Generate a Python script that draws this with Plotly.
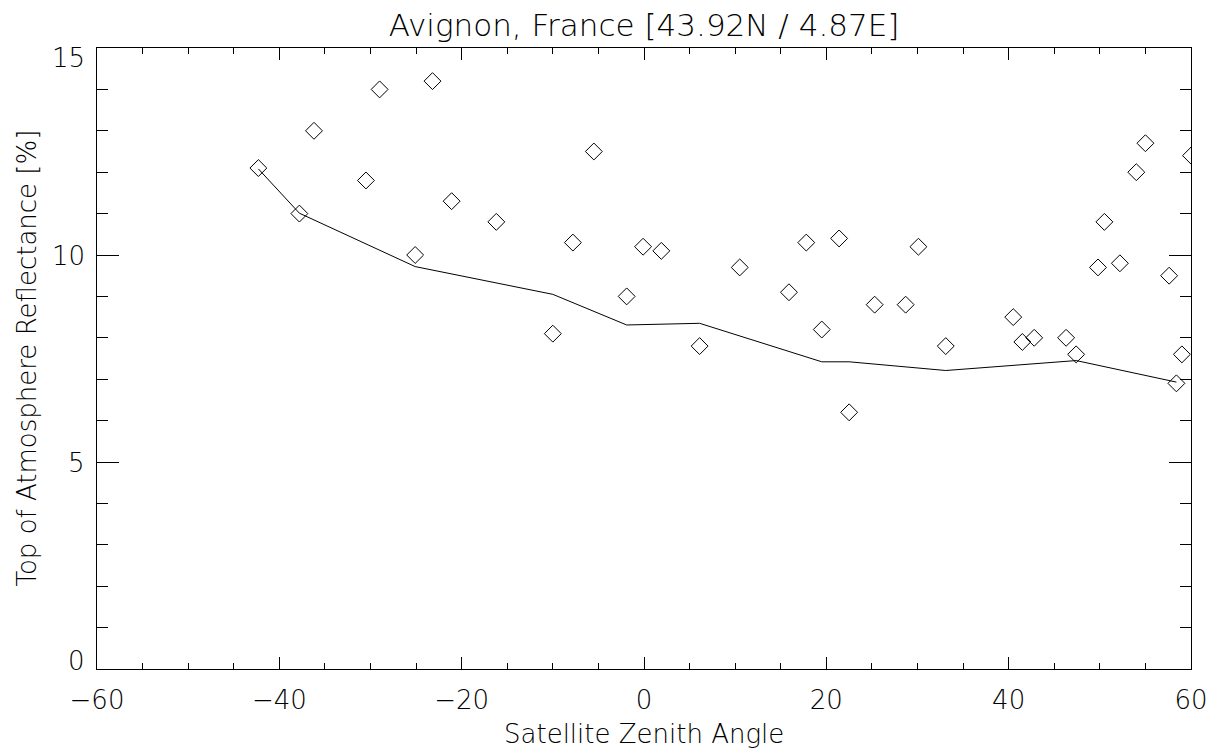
import plotly.graph_objects as go

# Scatter observations: satellite zenith angle vs TOA reflectance [%]
angle = [-42.3, -37.8, -36.2, -30.5, -29.0, -25.1, -23.2, -21.1, -16.2, -10.0,
         -7.8, -5.5, -1.9, -0.1, 1.9, 6.1, 10.5, 15.9, 17.8, 19.5,
         21.4, 22.5, 25.3, 28.7, 30.1, 33.1, 40.5, 41.5, 42.8, 46.3,
         47.4, 49.8, 50.5, 52.2, 54.0, 55.0, 57.6, 58.4, 59.0, 60.0]
reflectance = [12.1, 11.0, 13.0, 11.8, 14.0, 10.0, 14.2, 11.3, 10.8, 8.1,
               10.3, 12.5, 9.0, 10.2, 10.1, 7.8, 9.7, 9.1, 10.3, 8.2,
               10.4, 6.2, 8.8, 8.8, 10.2, 7.8, 8.5, 7.9, 8.0, 8.0,
               7.6, 9.7, 10.8, 9.8, 12.0, 12.7, 9.5, 6.9, 7.6, 12.4]

# Smoothed line
line_angle = [-42.3, -37.8, -25.1, -10.0, -1.9, 6.1, 19.5, 22.5, 33.1, 47.4, 58.4]
line_refl = [12.08, 11.01, 9.72, 9.05, 8.31, 8.35, 7.42, 7.42, 7.21, 7.45, 6.93]

title_text = "Avignon, France [43.92N / 4.87E]"
x_title = "Satellite Zenith Angle"
y_title = "Top of Atmosphere Reflectance [%]"
x_ticks = [-60, -40, -20, 0, 20, 40, 60]
y_ticks = [0, 5, 10, 15]
y_range = [0, 15]

FONT = "DejaVu Sans"
TXT = "#000000"
W = 200  # light weight to mimic stroke font

def tf(size):
    return dict(family=FONT, size=size, color=TXT, weight=W)

fig = go.Figure()
fig.add_trace(go.Scatter(
    x=line_angle, y=line_refl, mode="lines",
    line=dict(color="black", width=1), showlegend=False, hoverinfo="skip"))
fig.add_trace(go.Scatter(
    x=angle, y=reflectance, mode="markers",
    marker=dict(symbol="diamond-open", size=13, color="black",
                line=dict(color="black", width=1)),
    showlegend=False))

# page body has an 8px offset; margins compensate so the plot box lands at 97..1191 x 48..669
fig.update_layout(
    width=1225, height=751,
    paper_bgcolor="white", plot_bgcolor="white",
    margin=dict(l=89, r=42, t=40, b=90, autoexpand=False),
    font=tf(26),
    title=dict(text=title_text, x=0.5, xref="paper", xanchor="center",
               y=1 - 17 / 751, yanchor="middle", font=tf(31)),
)

fig.update_xaxes(
    range=[-60, 60], tickvals=x_ticks,
    ticktext=[str(v).replace("-", "\u2212") for v in x_ticks],
    ticks="inside", ticklen=12, tickwidth=1, tickcolor="black",
    showline=True, linecolor="black", linewidth=1, mirror="ticks",
    showgrid=False, zeroline=False, automargin=False,
    ticklabelstandoff=8,
    minor=dict(dtick=5, tick0=0, ticks="inside", ticklen=6, tickwidth=1,
               tickcolor="black", showgrid=False),
    tickfont=tf(26),
)
fig.update_yaxes(
    range=y_range, tickvals=y_ticks, showticklabels=False,
    ticks="inside", ticklen=22, tickwidth=1, tickcolor="black",
    showline=True, linecolor="black", linewidth=1, mirror="ticks",
    showgrid=False, zeroline=False, automargin=False,
    minor=dict(dtick=1, tick0=0, ticks="inside", ticklen=11, tickwidth=1,
               tickcolor="black", showgrid=False),
)

# y tick labels (end labels are nudged inward as in the reference)
for v in y_ticks:
    shift = -1
    if v == y_range[1]:
        shift = -10
    elif v == y_range[0]:
        shift = 8
    fig.add_annotation(text=str(v), xref="paper", x=0, xanchor="right", xshift=-10,
                       yref="y", y=v, yanchor="middle", yshift=shift,
                       showarrow=False, font=tf(26))

# axis titles
fig.add_annotation(text=x_title, xref="paper", x=0.5, xanchor="center",
                   yref="paper", y=0, yanchor="top", yshift=-48,
                   showarrow=False, font=tf(26))
fig.add_annotation(text=y_title, xref="paper", x=0, xanchor="center", xshift=-71,
                   yref="paper", y=0.5, yanchor="middle", textangle=-90,
                   showarrow=False, font=tf(26))

fig.write_html("out.html")
